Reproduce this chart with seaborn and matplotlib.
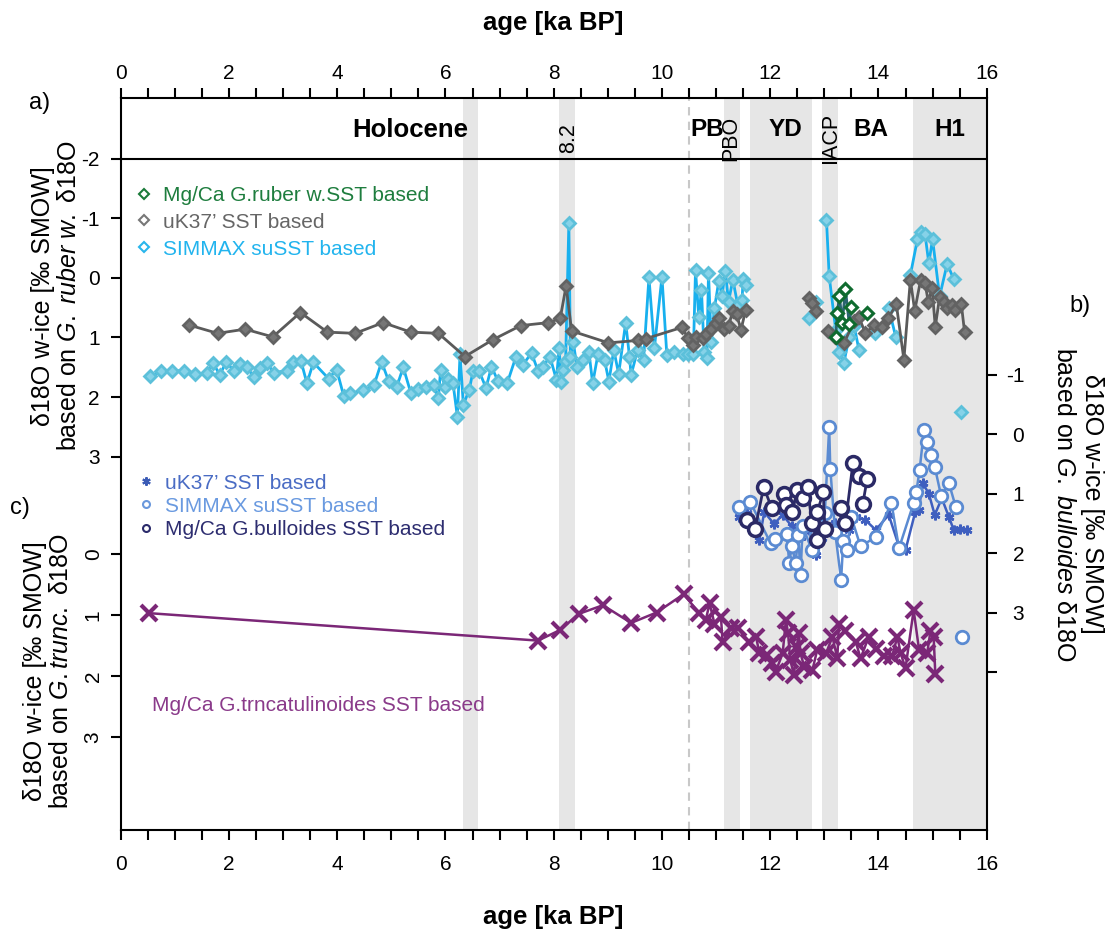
import numpy as np
import pandas as pd
import matplotlib
matplotlib.use("Agg")
import matplotlib.pyplot as plt
from matplotlib.lines import Line2D
from matplotlib.ticker import MultipleLocator, FixedLocator
import seaborn as sns

sns.set_theme(style="white")
plt.rcParams["font.family"] = ["Liberation Sans", "DejaVu Sans"]
plt.rcParams["axes.unicode_minus"] = False
plt.rcParams["mathtext.fontset"] = "custom"
plt.rcParams["mathtext.rm"] = "Liberation Sans"
plt.rcParams["mathtext.it"] = "Liberation Sans:italic"
plt.rcParams["text.color"] = "black"
plt.rcParams["axes.labelcolor"] = "black"

nan = np.nan

# ---------------- a) d18O w-ice based on G. ruber w. d18O ----------------
ruber_mgca_age = [13.21, 13.24, 13.28, 13.33, 13.39, 13.46, 13.50, nan, 13.79]
ruber_mgca_val = [0.99, 0.58, 0.30, 0.76, 0.19, 0.77, 0.48, nan, 0.58]

ruber_uk37_age = [1.26, 1.79, 2.30, 2.81, 3.32, 3.82, 4.33, 4.85, 5.36, 5.87, 6.36, 6.87,
                  7.39, 7.90, 8.12, 8.23, 8.33, 9.01, 9.55, 9.70, 10.37, 10.48, 10.57,
                  10.63, 10.75, 10.81, 10.91, 11.00, 11.06, 11.14, 11.23, 11.31, 11.38,
                  11.46, 11.55, nan, 12.71, 12.77, 12.84, nan, 13.07, 13.20, 13.36, 13.55,
                  13.64, 13.76, 13.92, 14.06, 14.18, 14.33, 14.47, 14.59, 14.67, 14.78,
                  14.86, 14.92, 14.99, 15.05, 15.13, 15.21, 15.27, 15.35, 15.42, 15.53, 15.59]
ruber_uk37_val = [0.79, 0.93, 0.86, 0.99, 0.58, 0.91, 0.93, 0.75, 0.91, 0.93, 1.32, 1.04,
                  0.80, 0.75, 0.68, 0.13, 0.89, 1.09, 1.05, 1.02, 0.83, 1.01, 1.13,
                  0.99, 1.01, 0.94, 0.85, 0.76, 0.68, 0.86, 0.81, 0.55, 0.61,
                  0.87, 0.53, nan, 0.33, 0.42, 0.56, nan, 0.89, 1.00, 1.10, 0.73,
                  0.66, 0.93, 0.79, 0.82, 0.68, 0.44, 1.37, 0.03, 0.55, 0.03,
                  0.08, 0.40, 0.17, 0.82, 0.32, 0.41, 0.51, 0.45, 0.53, 0.43, 0.90]

ruber_simmax_age = [0.54, 0.75, 0.95, 1.17, 1.38, 1.59, 1.71, 1.83, 1.95, 2.09, 2.20, 2.34,
                    2.46, 2.57, 2.70, 2.83, 3.07, 3.18, 3.33, 3.44, 3.56, 3.84, 3.99, 4.12,
                    4.24, 4.47, 4.68, 4.82, 4.95, 5.10, 5.22, 5.36, 5.50, 5.64, 5.78, 5.87,
                    5.91, 5.99, 6.05, 6.14, 6.22, 6.27, 6.33, 6.44, 6.51, 6.62, 6.75, 6.85,
                    6.97, 7.14, 7.30, 7.43, 7.59, 7.71, 7.80, 7.93, 8.05, 8.10, 8.14, 8.17,
                    8.22, 8.28, 8.31, 8.36, 8.43, 8.54, 8.65, 8.72, 8.82, 8.94, 9.02, 9.11,
                    9.20, 9.33, 9.40, 9.43, 9.55, 9.66, 9.76, 9.86, 10.00, 10.09, 10.23,
                    10.38, 10.48, 10.58, 10.62, 10.68, 10.73, 10.78, 10.83, 10.86, 10.91,
                    10.97, 11.05, 11.11, 11.17, 11.23, 11.31, 11.40, 11.48, 11.50, 11.55,
                    nan, 12.72, 12.84, nan, 13.04, 13.09, 13.21, 13.27, 13.36, 13.46, 13.55,
                    13.64, nan, 13.94, nan, 14.19, 14.32, nan, 14.59, 14.72, 14.79, 14.86,
                    14.93, 15.00, 15.13, 15.27, 15.39, nan, 15.53]
ruber_simmax_val = [1.65, 1.57, 1.56, 1.56, 1.61, 1.60, 1.43, 1.63, 1.41, 1.56, 1.45, 1.50,
                    1.67, 1.52, 1.43, 1.59, 1.56, 1.41, 1.39, 1.77, 1.42, 1.69, 1.54, 1.98,
                    1.94, 1.89, 1.80, 1.41, 1.73, 1.83, 1.50, 1.93, 1.87, 1.83, 1.80, 2.02,
                    1.55, 1.83, 1.70, 1.77, 2.33, 1.27, 2.13, 1.88, 1.56, 1.56, 1.85, 1.49,
                    1.73, 1.77, 1.33, 1.46, 1.26, 1.56, 1.49, 1.32, 1.71, 1.18, 1.74, 1.55,
                    1.40, -0.92, 1.32, 1.07, 1.49, 1.38, 1.24, 1.77, 1.27, 1.38, 1.74, 1.21,
                    1.61, 0.75, 1.32, 1.63, 1.21, 1.37, -0.01, 1.18, -0.02, 1.29, 1.25,
                    1.27, 1.27, 1.27, -0.13, 0.65, 0.20, 1.24, 1.35, -0.09, 1.07,
                    0.51, 0.05, 0.30, -0.12, 0.40, 0.03, 0.45, 0.37, 0.01, 0.12,
                    nan, 0.68, 0.41, nan, -0.97, -0.03, 0.87, 1.24, 1.43, 0.99, 0.80,
                    1.21, nan, 0.92, nan, 0.51, 0.99, nan, -0.05, -0.65, -0.78, -0.74,
                    -0.25, -0.65, 0.31, -0.24, 0.02, nan, 2.26]

# ---------------- b) d18O w-ice based on G. bulloides d18O ----------------
bull_uk37_age = [11.42, 11.57, 11.80, 11.89, 12.07, 12.23, 12.40, 12.56, 12.70, 12.84, 12.95,
                 13.09, 13.20, 13.31, 13.46, 13.58, 13.76, 13.95, 14.19, 14.38, 14.50, 14.68,
                 14.74, 14.82, 14.93, 15.04, 15.17, 15.30, 15.39, 15.51, 15.64]
bull_uk37_val = [1.39, 1.33, 1.78, 1.31, 1.51, 1.36, 1.55, 1.73, 1.60, 2.03, 1.75,
                 1.56, 1.50, 1.55, 1.61, 1.39, 1.45, 1.61, 1.36, 1.89, 1.95, 1.31,
                 1.28, 0.83, 1.00, 1.36, 1.08, 1.39, 1.61, 1.60, 1.61]

bull_simmax_age = [11.42, 11.63, 12.01, 12.09, 12.31, 12.35, 12.40, 12.47, 12.52, 12.56, 12.60,
                   12.77, 12.85, 12.92, 13.01, 13.09, 13.11, 13.20, 13.31, 13.35, 13.41, 13.50,
                   13.67, 13.95, 14.24, 14.38, 14.65, 14.70, 14.76, 14.84, 14.90, 14.97, 15.04,
                   15.16, 15.30, 15.43, nan, 15.55]
bull_simmax_val = [1.22, 1.14, 1.84, 1.77, 1.68, 2.17, 1.89, 2.16, 1.70, 2.37, 1.55,
                   1.95, 1.70, 1.55, 1.32, -0.11, 0.58, 1.65, 2.45, 1.80, 1.95, 1.40,
                   1.89, 1.73, 1.16, 1.92, 1.16, 0.97, 0.61, -0.06, 0.13, 0.35, 0.55,
                   1.05, 0.82, 1.23, nan, 3.41]

bull_mgca_age = [11.58, 11.72, 11.88, 12.03, nan, 12.25, 12.30, 12.41, 12.50, 12.60, 12.69,
                 12.77, 12.86, 12.87, 12.98, 13.01, nan, 13.30, 13.39, 13.53, 13.64, 13.79, 13.71]
bull_mgca_val = [1.45, 1.60, 0.89, 1.25, nan, 1.01, 1.19, 1.31, 0.94, 1.08, 0.89,
                 1.50, 1.78, 1.31, 0.98, 1.59, nan, 1.25, 1.50, 0.48, 0.70, 0.76, 1.18]

# ---------------- c) d18O w-ice based on G. truncatulinoides d18O ----------------
trunc_age = [0.52, 7.71, 8.11, 8.47, 8.91, 9.43, 9.90, 10.40, 10.69, 10.81, 10.88, 10.97,
             11.09, 11.12, 11.28, 11.40, 11.61, 11.74, 11.80, 11.95, 12.04, 12.10, 12.23,
             12.29, 12.33, 12.37, 12.44, 12.49, 12.53, 12.56, 12.63, 12.78, 12.87, 13.03,
             13.15, 13.24, 13.27, 13.39, 13.58, 13.67, 13.82, 13.95, 14.10, 14.25, 14.35,
             14.41, 14.50, 14.65, 14.75, 14.90, 14.96, 15.02, 15.05]
trunc_val = [0.97, 1.42, 1.25, 0.98, 0.84, 1.13, 0.96, 0.66, 0.97, 1.08, 0.81, 1.14,
             1.03, 1.44, 1.22, 1.22, 1.44, 1.36, 1.63, 1.66, 1.79, 1.93, 1.63,
             1.08, 1.30, 1.74, 1.98, 1.52, 1.30, 1.63, 1.85, 1.90, 1.57, 1.63,
             1.36, 1.71, 1.14, 1.27, 1.44, 1.71, 1.36, 1.55, 1.68, 1.68, 1.36,
             1.63, 1.87, 0.92, 1.57, 1.63, 1.27, 1.36, 1.96]

# climate intervals (shaded) and their header labels
band_start = [6.32, 8.09, 11.15, 11.63, 12.96, 14.64]
band_end = [6.60, 8.39, 11.45, 12.77, 13.26, 16.0]
period_names = ["Holocene", "PB", "YD", "BA", "H1"]
period_pos = [5.35, 10.84, 12.28, 13.86, 15.31]
event_names = ["8.2", "PBO", "IACP"]
event_pos = [8.27, 11.28, 13.12]

C_GREEN, C_GREY, C_CYAN = "#1e7d3e", "#5a5a5a", "#18b0ee"
C_UK, C_SIM, C_MG = "#3f5fbf", "#5b8bd2", "#2b2a66"
C_TRUNC = "#7b2777"


def series(age, val):
    age = np.asarray(age, float)
    val = np.asarray(val, float)
    seg = np.cumsum(np.isnan(val))
    return pd.DataFrame({"age": age, "val": val, "seg": seg}).dropna()


W, H = 1107, 930
fig = plt.figure(figsize=(W / 100, H / 100), dpi=100)
x0, x1, ytop, ybot = 120.7, 986.7, 98, 830
rect = [x0 / W, 1 - ybot / H, (x1 - x0) / W, (ybot - ytop) / H]

axA = fig.add_axes(rect, label="a")
axB = axA.twinx()
axC = fig.add_axes(rect, label="c", sharex=axA)
for ax in (axB, axC):
    ax.patch.set_visible(False)
    for s in ax.spines.values():
        s.set_visible(False)

axA.set_xlim(0, 16)
axA.set_ylim(9.277, -3.025)
axB.set_ylim(6.655, -5.647)
axC.set_ylim(4.525, -7.475)

for s in axA.spines.values():
    s.set_linewidth(1.5)
    s.set_color("black")

# shading, header line and the 10.5 ka marker
for a0, a1 in zip(band_start, band_end):
    axA.axvspan(a0, a1, color="#e6e6e6", lw=0, zorder=0)
axA.axvline(10.5, color="#c8c8c8", lw=1.5, ls=(0, (4, 3)), zorder=0.5)
axA.axhline(-2, color="black", lw=1.5, zorder=3)

for name, pos in zip(period_names, period_pos):
    axA.text(pos, -2.49, name, ha="center", va="center",
             fontsize=18.5 if name == "Holocene" else 17.5, fontweight="bold", zorder=4)
for name, pos in zip(event_names, event_pos):
    axA.text(pos, -2.35, name, ha="center", va="center", rotation=90, fontsize=15.5, zorder=4)

# panel a
common = dict(estimator=None, sort=False, units="seg", legend=False)
sns.lineplot(data=series(ruber_simmax_age, ruber_simmax_val), x="age", y="val", ax=axA,
             color=C_CYAN, lw=2, marker="D", markersize=6.5, markerfacecolor="#86d2e8",
             markeredgecolor="#5cc0da", markeredgewidth=2, zorder=4, **common)
sns.lineplot(data=series(ruber_uk37_age, ruber_uk37_val), x="age", y="val", ax=axA,
             color=C_GREY, lw=2, marker="D", markersize=6.5, markerfacecolor="#767676",
             markeredgecolor="#626262", markeredgewidth=2, zorder=5, **common)
sns.lineplot(data=series(ruber_mgca_age, ruber_mgca_val), x="age", y="val", ax=axA,
             color="#2a6470", lw=2, marker="D", markersize=6.5, markerfacecolor="white",
             markeredgecolor="#0f6b2f", markeredgewidth=2.2, zorder=6, **common)

# panel b
sns.lineplot(data=series(bull_uk37_age, bull_uk37_val), x="age", y="val", ax=axB,
             color=C_UK, lw=1.8, marker=(6, 2, 0), markersize=7, markeredgecolor=C_UK,
             markeredgewidth=1.8, zorder=4, **common)
sns.lineplot(data=series(bull_simmax_age, bull_simmax_val), x="age", y="val", ax=axB,
             color=C_SIM, lw=1.8, marker="o", markersize=9, markerfacecolor="white",
             markeredgecolor=C_SIM, markeredgewidth=2, zorder=5, **common)
sns.lineplot(data=series(bull_mgca_age, bull_mgca_val), x="age", y="val", ax=axB,
             color=C_MG, lw=2, marker="o", markersize=10, markerfacecolor="white",
             markeredgecolor=C_MG, markeredgewidth=2.5, zorder=6, **common)

# panel c
sns.lineplot(data=series(trunc_age, trunc_val), x="age", y="val", ax=axC,
             color=C_TRUNC, lw=1.8, marker="x", markersize=12, markeredgecolor=C_TRUNC,
             markeredgewidth=3, zorder=4, **common)

# axes ticks
tick_kw = dict(direction="out", length=7, width=1.5, colors="black", labelsize=15)
axA.xaxis.set_major_locator(MultipleLocator(2))
axA.xaxis.set_minor_locator(MultipleLocator(0.5))
axA.tick_params(axis="x", which="both", bottom=True, top=False, pad=11, **tick_kw)
axA.tick_params(axis="x", which="minor", labelbottom=False)

top = axA.secondary_xaxis("top")
top.xaxis.set_major_locator(MultipleLocator(2))
top.xaxis.set_minor_locator(MultipleLocator(0.5))
top.tick_params(axis="x", which="both", pad=4, **tick_kw)
top.spines["top"].set_visible(False)
top.set_xlabel("age [ka BP]", fontsize=18.5, fontweight="bold", labelpad=24)

axA.set_ylabel("")
axB.set_ylabel("")
axC.set_ylabel("")
axA.set_xlabel("age [ka BP]", fontsize=18.5, fontweight="bold", labelpad=22)
axC.set_xlabel("")
axC.tick_params(axis="x", which="both", bottom=False, labelbottom=False)
axB.tick_params(axis="x", which="both", bottom=False, top=False)

axA.yaxis.set_major_locator(FixedLocator([-2, -1, 0, 1, 2, 3]))
axA.yaxis.set_minor_locator(FixedLocator([]))
axA.tick_params(axis="y", which="both", left=True, right=False, pad=8, **tick_kw)

axC.yaxis.set_major_locator(FixedLocator([0, 1, 2, 3]))
axC.yaxis.set_minor_locator(FixedLocator([]))
axC.tick_params(axis="y", which="both", left=True, right=False, pad=6, labelrotation=90, **tick_kw)
for lab in axC.get_yticklabels():
    lab.set_verticalalignment("center")

axB.yaxis.set_major_locator(FixedLocator([-1, 0, 1, 2, 3, 4]))
axB.set_yticklabels(["-1", "0", "1", "2", "3", ""])
axB.tick_params(axis="y", which="both", right=True, left=False, pad=20, **tick_kw)
for lab in axB.get_yticklabels():
    lab.set_horizontalalignment("right")


# legends
def proxy(marker, color, size, mew=1.5):
    return Line2D([], [], ls="none", marker=marker, markersize=size, markerfacecolor="white",
                  markeredgecolor=color, markeredgewidth=mew)


legA = axA.legend(
    handles=[proxy("D", "#1b7a3a", 5), proxy("D", "#777777", 5), proxy("D", "#29b6ec", 5)],
    labels=["Mg/Ca G.ruber w.SST based", "uK37’ SST based", "SIMMAX suSST based"],
    labelcolor=[C_GREEN, "#666666", "#22b4ee"], loc="upper left",
    bbox_to_anchor=(0.0152, 0.880), frameon=False, fontsize=15, handlelength=1.0,
    handletextpad=0.4, labelspacing=0.38, borderpad=0, borderaxespad=0)
legA.set_zorder(10)

legB = axB.legend(
    handles=[proxy((6, 2, 0), "#3b5bb5", 6), proxy("o", "#6a98dc", 5), proxy("o", "#2b2b6b", 5)],
    labels=["uK37’ SST based", "SIMMAX suSST based", "Mg/Ca G.bulloides SST based"],
    labelcolor=["#4a6cc4", "#6a9ae0", "#2d2d70"], loc="upper left",
    bbox_to_anchor=(0.0175, 0.487), frameon=False, fontsize=15, handlelength=1.0,
    handletextpad=0.4, labelspacing=0.2, borderpad=0, borderaxespad=0)
legB.set_zorder(10)

axC.text(0.0361, 0.1694, "Mg/Ca G.trncatulinoides SST based", transform=axC.transAxes,
         ha="left", va="center", fontsize=15, color="#8a3a8a")


# axis titles and panel letters
def fx(px):
    return px / W


def fy(py):
    return 1 - py / H


fig.text(fx(56), fy(296), "δ18O w-ice [‰ SMOW]\nbased on $\\mathit{G.\\ ruber\\ w.}$ δ18O",
         rotation=90, ha="center", va="center", multialignment="center", fontsize=18,
         linespacing=1.1)
fig.text(fx(48), fy(671), "δ18O w-ice [‰ SMOW]\nbased on $\\mathit{G.trunc.}$ δ18O",
         rotation=90, ha="center", va="center", multialignment="center", fontsize=18,
         linespacing=1.1)
fig.text(fx(1078), fy(504), "δ18O w-ice [‰ SMOW]\nbased on $\\mathit{G.\\ bulloides}$ δ18O",
         rotation=270, ha="center", va="center", multialignment="center", fontsize=18,
         linespacing=1.2)
fig.text(fx(40), fy(103), "a)", ha="center", va="center", fontsize=17)
fig.text(fx(20), fy(508), "c)", ha="center", va="center", fontsize=17)
fig.text(fx(1080), fy(306), "b)", ha="center", va="center", fontsize=17)

fig.savefig("out.png", dpi=100)
